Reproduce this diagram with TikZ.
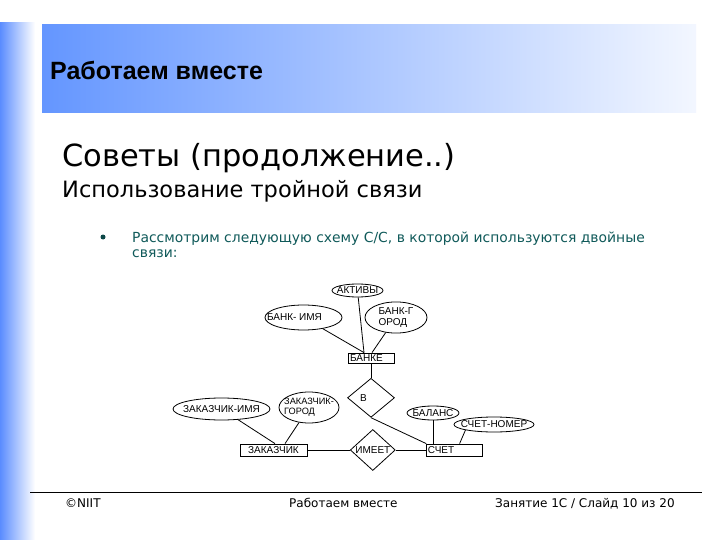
\documentclass[tikz,border=0pt]{standalone}
\usepackage{fontspec}
\setmainfont{DejaVu Sans}
\newfontfamily\hdrfont{Liberation Sans}
\newfontfamily\erfont{Liberation Sans}
\usepackage{tikz}
\usetikzlibrary{positioning, shapes.geometric}
\usepackage{xcolor}
\definecolor{hdrblue}{RGB}{100,150,255}
\definecolor{barblue}{RGB}{90,140,255}
\definecolor{bodyteal}{RGB}{16,90,90}
\newcommand{\ctext}[1]{\makebox[0pt]{#1}}
\tikzset{
  erfnt/.style={font=\erfont\fontsize{10}{11}\selectfont},
  link/.style={line width=0.8pt},
  attr/.style={draw, link, ellipse, inner sep=0pt, erfnt},
  entity/.style={draw, link, rectangle, inner sep=0pt, erfnt},
  rel/.style={draw, link, diamond, inner sep=0pt, erfnt},
}
\begin{document}
\begin{tikzpicture}[x=1pt, y=-1pt]
  \useasboundingbox (0,0) rectangle (720,540);
  \fill[white] (0,0) rectangle (720,540);
  % slide frame
  \shade[left color=barblue, right color=white] (0,23) rectangle (35,540);
  \shade[left color=hdrblue, right color=white!92!hdrblue] (42,25) rectangle (696,113);
  \node[anchor=base west, inner sep=0pt, font=\hdrfont\bfseries\fontsize{25}{30}\selectfont] (hdr) at (50,80) {Работаем вместе};
  \node[anchor=base west, inner sep=0pt, font=\fontsize{30.5}{36}\selectfont] (title) at (62,167) {Советы (продолжение..)};
  \node[anchor=base west, inner sep=0pt, font=\fontsize{22.5}{27}\selectfont] (subtitle) at (62,198) {Использование тройной связи};
  \node[circle, fill=bodyteal!80!black, inner sep=0pt, minimum size=5pt] (dot) at (103,237) {};
  \node[anchor=north west, inner sep=0pt, align=left, text=bodyteal,
        font=\fontsize{13.9}{15}\selectfont] (intro) at (132,232)
    {Рассмотрим следующую схему С/С, в которой используются двойные\\связи:};

  % ER diagram
  \node[attr, minimum width=51pt, minimum height=13pt] (assets) at (357.5,290.5) {\ctext{АКТИВЫ}};
  \node[attr, minimum width=77pt, minimum height=25pt] (bankname) at (303.5,317.5) {\ctext{БАНК- ИМЯ\hspace*{18pt}}};
  \node[attr, minimum width=62pt, minimum height=25pt] (bankcity) at (396,317.5)
    {\ctext{\begin{tabular}{@{}l@{}}БАНК-Г\\ОРОД\end{tabular}}};
  \node[entity, minimum width=46pt, minimum height=10pt] (bank) at (371,358) {\ctext{БАНКЕ\hspace*{9pt}}};
  \node[rel, minimum width=47pt, minimum height=39pt, below=14.5pt of bank] (inrel) {\ctext{В\hspace*{15pt}}};

  \node[attr, minimum width=97pt, minimum height=22pt] (custname) at (221.5,409) {\ctext{ЗАКАЗЧИК-ИМЯ}};
  \node[attr, minimum width=60pt, minimum height=31pt, font=\erfont\fontsize{9.2}{10.5}\selectfont] (custcity) at (309,407.5)
    {\ctext{\begin{tabular}{@{}l@{}}ЗАКАЗЧИК-\\ГОРОД\end{tabular}}};
  \node[entity, minimum width=67pt, minimum height=12pt] (customer) at (273.5,450) {\ctext{ЗАКАЗЧИК}};
  \node[rel, minimum width=45pt, minimum height=41pt, right=42.5pt of customer] (has) {\ctext{ИМЕЕТ}};
  \node[entity, minimum width=56pt, minimum height=12pt, right=30.5pt of has] (account) {\ctext{СЧЕТ\hspace*{27pt}}};
  \node[attr, minimum width=52pt, minimum height=14pt] (balance) at (433,413) {\ctext{БАЛАНС}};
  \node[attr, minimum width=80pt, minimum height=15pt] (accnum) at (494,424.5) {\ctext{СЧЕТ-НОМЕР}};

  \draw[link] (bankname) -- ([xshift=-7pt]bank.north);
  \draw[link] (assets) -- ([xshift=-7pt]bank.north);
  \draw[link] (bankcity) -- ([xshift=1pt]bank.north);
  \draw[link] (bank) -- (inrel);
  \draw[link] (inrel.south) -- (account.north west);
  \draw[link] (custname) -- ([xshift=1.5pt]customer.north);
  \draw[link] (custcity) -- ([xshift=11.5pt]customer.north);
  \draw[link] (customer) -- (has) -- (account);
  \draw[link] (balance) -- (balance |- account.north);
  \draw[link] (accnum.south west) -- ([xshift=5pt]account.north);

  % footer
  \draw[line width=1pt] (30,492) -- (702,492);
  \node[anchor=base west, inner sep=0pt, font=\fontsize{12}{14}\selectfont] (copy) at (65,507) {©NIIT};
  \node[anchor=base west, inner sep=0pt, font=\fontsize{12}{14}\selectfont] (ftitle) at (289,507) {Работаем вместе};
  \node[anchor=base west, inner sep=0pt, font=\fontsize{12}{14}\selectfont] (fslide) at (495,507) {Занятие 1C / Слайд 10 из 20};
\end{tikzpicture}
\end{document}
